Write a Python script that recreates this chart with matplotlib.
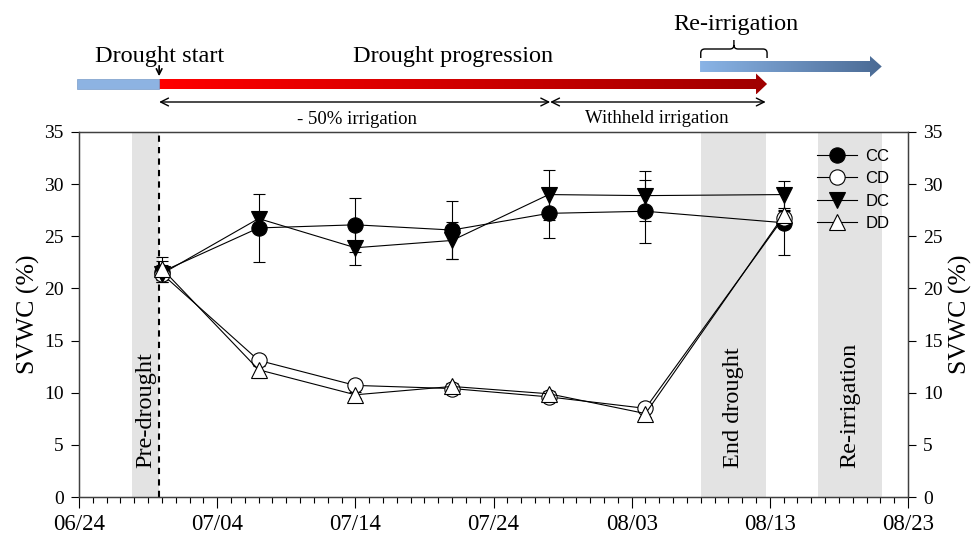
import matplotlib
matplotlib.use('Agg')
import matplotlib.pyplot as plt
import numpy as np
import pandas as pd
from matplotlib.colors import LinearSegmentedColormap
from matplotlib.patches import Polygon, Rectangle, PathPatch
from matplotlib.path import Path

plt.rcParams['font.family'] = 'Liberation Serif'

# sampling dates and SVWC (%) means / SE per treatment
start = pd.Timestamp('2021-06-24')
tick_dates = ['06/24', '07/04', '07/14', '07/24', '08/03', '08/13', '08/23']
sample_dates = ['06/30', '07/07', '07/14', '07/21', '07/28', '08/04', '08/14']

cc = [21.6, 25.8, 26.1, 25.6, 27.2, 27.4, 26.3]
cc_err = [1.0, 3.3, 2.6, 2.8, 2.4, 3.0, 3.1]
cd = [21.4, 13.1, 10.7, 10.4, 9.6, 8.5, 26.8]
cd_err = [0.8, 0.5, 0.4, 0.3, 0.3, 0.3, 0.6]
dc = [21.4, 26.7, 23.9, 24.6, 29.0, 28.9, 29.0]
dc_err = [0.5, 0.6, 1.7, 1.8, 2.4, 2.4, 1.3]
dd = [21.9, 12.2, 9.8, 10.6, 9.9, 8.0, 27.0]
dd_err = [1.1, 0.8, 0.3, 0.3, 0.3, 0.3, 0.5]

# treatment periods, in days since 06/24
drought_start = 5.8
withheld_start = 34.1
drought_end = 49.8
pre_drought = (3.8, 5.8)
end_drought = (45.0, 49.75)
re_irrigation = (53.5, 58.1)


def to_day(s):
    return (pd.Timestamp('2021/' + s) - start).days


x = [to_day(d) for d in sample_dates]
xt = [to_day(d) for d in tick_dates]

W, H = 973, 540
fig = plt.figure(figsize=(W / 100, H / 100), dpi=100)
ax = fig.add_axes([79 / W, 43 / H, 829 / W, 365 / H])
ppd = 829 / 60  # pixels per day

band_color = '#e3e3e3'
for lo, hi in [pre_drought, end_drought, re_irrigation]:
    ax.axvspan(lo, hi, color=band_color, lw=0, zorder=0)
ax.axvline(drought_start, color='black', lw=1.5, ls=(0, (3, 2.5)), zorder=1)

band_kw = dict(rotation=90, ha='center', va='bottom', fontsize=17.5, zorder=2)
ax.text(sum(pre_drought) / 2, 2.8, 'Pre-drought', **band_kw)
ax.text(sum(end_drought) / 2, 2.8, 'End drought', **band_kw)
ax.text(sum(re_irrigation) / 2, 2.8, 'Re-irrigation', **band_kw)

series = [('CC', cc, cc_err, 'o', 'black'),
          ('CD', cd, cd_err, 'o', 'white'),
          ('DC', dc, dc_err, 'v', 'black'),
          ('DD', dd, dd_err, '^', 'white')]
handles, names = [], []
for name, vals, err, mk, fc in series:
    h = ax.errorbar(x, vals, yerr=err, fmt='-', marker=mk, color='black',
                    mfc=fc, mec='black', ms=11, mew=0.8, lw=0.8,
                    elinewidth=0.8, capsize=4, capthick=0.8, zorder=3)
    handles.append(h[0])
    names.append(name)

ax.set_xlim(0, 60)
ax.set_ylim(0, 35)
ax.set_xticks(xt)
ax.set_xticklabels(tick_dates)
ax.set_xticks(np.arange(0, 61), minor=True)
ax.set_yticks(range(0, 36, 5))
ax.tick_params(axis='x', which='major', direction='out', length=8, width=0.8,
               labelsize=16.5, pad=4)
ax.tick_params(axis='x', which='minor', direction='out', length=4, width=0.8)
ax.tick_params(axis='y', direction='out', length=6, width=0.8, labelsize=14, pad=5)
ax.set_ylabel('SVWC (%)', fontsize=18.5, labelpad=3)
for sp in ax.spines.values():
    sp.set_color('#404040')
    sp.set_linewidth(1)

ax2 = ax.twinx()
ax2.set_ylim(0, 35)
ax2.set_yticks(range(0, 36, 5))
ax2.tick_params(axis='y', direction='out', length=6, width=0.8, labelsize=14, pad=5)
ax2.set_ylabel('SVWC (%)', fontsize=18.5, labelpad=4)
for sp in ax2.spines.values():
    sp.set_color('#404040')

ax.legend(handles, names, loc='center left', bbox_to_anchor=(0.89, 0.841),
          frameon=False, borderpad=0, borderaxespad=0, handlelength=2.4,
          handletextpad=0.5, labelspacing=0.45,
          prop={'family': 'Liberation Sans', 'size': 12})

# timeline strip above the plot (x in days, y in pixels from the top)
top = fig.add_axes([0, 1 - 132 / H, 1, 132 / H])


def gradient_arrow(x0, x1, head_x, yc, body_h, head_h, c0, c1):
    verts = [(x0, yc - body_h / 2), (head_x, yc - body_h / 2), (head_x, yc - head_h / 2),
             (x1, yc), (head_x, yc + head_h / 2), (head_x, yc + body_h / 2),
             (x0, yc + body_h / 2)]
    poly = Polygon(verts, closed=True, fc='none', ec='none')
    top.add_patch(poly)
    cmap = LinearSegmentedColormap.from_list('grad', [c0, c1])
    grad = np.linspace(0, 1, 256)[None, :]
    im = top.imshow(grad, cmap=cmap, extent=(x0, x1, yc + head_h / 2, yc - head_h / 2),
                    aspect='auto', interpolation='bilinear')
    im.set_clip_path(poly)


top.add_patch(Rectangle((-0.14, 79), drought_start + 0.14, 10, fc='#8db3e2',
                        ec='#7a9cc8', lw=0.5))
gradient_arrow(drought_start, drought_end, 49.0, 84, 10, 21, '#ff0000', '#a00000')
gradient_arrow(44.95, 58.1, 57.25, 66.5, 11, 21, '#8ab4e6', '#4a6a94')

top.annotate('', xy=(drought_start, 79), xytext=(drought_start, 63),
             arrowprops=dict(arrowstyle='->', color='black', lw=1.2))
arrow_kw = dict(arrowstyle='<->', color='black', lw=1, shrinkA=0, shrinkB=0,
                mutation_scale=14)
top.annotate('', xy=(drought_start, 102), xytext=(withheld_start, 102),
             arrowprops=arrow_kw)
top.annotate('', xy=(withheld_start, 102), xytext=(drought_end - 0.1, 102),
             arrowprops=arrow_kw)

# curly brace over the re-irrigation start
bx0, bx1 = 45.0, 49.8
bm = (bx0 + bx1) / 2
r = 0.3
verts = [(bx0, 58), (bx0, 53), (bx0, 49), (bx0 + r, 49), (bm - r, 49), (bm, 49), (bm, 45),
         (bm, 40), (bm, 45), (bm, 49), (bm + r, 49), (bx1 - r, 49), (bx1, 49), (bx1, 53),
         (bx1, 58)]
codes = [Path.MOVETO, Path.LINETO, Path.CURVE3, Path.CURVE3, Path.LINETO, Path.CURVE3,
         Path.CURVE3, Path.LINETO, Path.MOVETO, Path.CURVE3, Path.CURVE3, Path.LINETO,
         Path.CURVE3, Path.CURVE3, Path.LINETO]
top.add_patch(PathPatch(Path(verts, codes), fc='none', ec='black', lw=1))

top.text(drought_start, 62, 'Drought start', ha='center', va='baseline', fontsize=17.5)
top.text(27.1, 62, 'Drought progression', ha='center', va='baseline', fontsize=17.5)
top.text(47.55, 30, 'Re-irrigation', ha='center', va='baseline', fontsize=17.5)
top.text(20.1, 124, '- 50% irrigation', ha='center', va='baseline', fontsize=13.5)
top.text(41.8, 123, 'Withheld irrigation', ha='center', va='baseline', fontsize=13.5)

top.set_xlim(-79 / ppd, (W - 79) / ppd)
top.set_ylim(132, 0)
top.axis('off')

fig.savefig('out.png', dpi=100)
